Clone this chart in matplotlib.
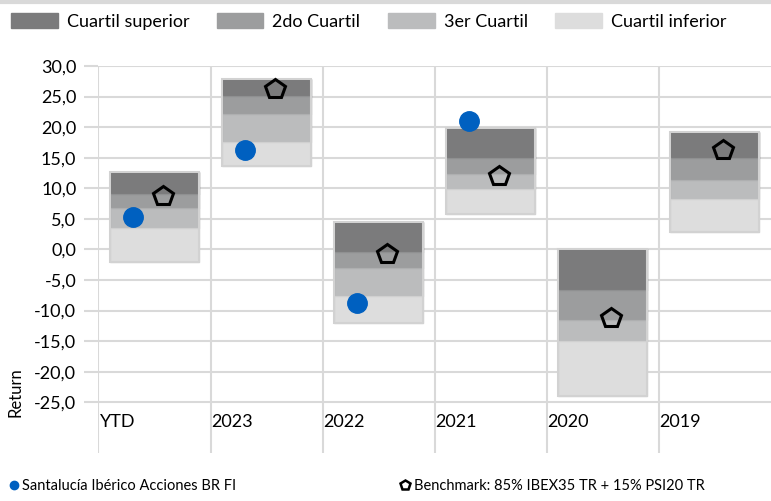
import matplotlib.pyplot as plt
from matplotlib.patches import Patch
from matplotlib.lines import Line2D
import numpy as np

plt.rcParams['font.family'] = ['Lato', 'DejaVu Sans']

categories = ['YTD', '2023', '2022', '2021', '2020', '2019']

# quartile boundaries per period (top -> bottom)
q_top = [12.7, 27.8, 4.5, 19.9, 0.0, 19.2]
q_upper = [9.0, 25.1, -0.4, 14.9, -6.7, 14.9]
q_median = [6.7, 22.2, -3.0, 12.4, -11.5, 11.4]
q_lower = [3.5, 17.6, -7.6, 9.8, -15.0, 8.2]
q_bottom = [-2.0, 13.6, -12.1, 5.8, -23.9, 2.9]

fund = [5.3, 16.2, -8.7, 21.0, np.nan, np.nan]
benchmark = [8.8, 26.2, -0.8, 12.0, -11.2, 16.2]

quart_labels = ['Cuartil superior', '2do Cuartil', '3er Cuartil', 'Cuartil inferior']
quart_colors = ['#7b7b7c', '#9c9d9e', '#bbbcbd', '#dddddd']
quart_edges = ['#6e6e6f', '#8f9091', '#aeafb0', '#d0d0d0']

fig = plt.figure(figsize=(7.71, 5.01), dpi=100)
ax = fig.add_axes([98.5 / 771, 1 - 453 / 501, 672 / 771, (453 - 66) / 501])

x = np.arange(len(categories)) + 0.5
top = np.array(q_top)
upper = np.array(q_upper)
med = np.array(q_median)
low = np.array(q_lower)
bot = np.array(q_bottom)

segments = [(upper, top), (med, upper), (low, med), (bot, low)]
for (b, t), col, ec in zip(segments, quart_colors, quart_edges):
    ax.bar(x, t - b, bottom=b, width=0.8, color=col, edgecolor=ec, linewidth=1, zorder=2)
# outer border of each box
ax.bar(x, top - bot, bottom=bot, width=0.8, facecolor='none', edgecolor='#d2d2d2',
       linewidth=1.5, zorder=3)

ax.plot(x - 0.19, fund, 'o', color='#0060c0', markersize=14, zorder=4)
ax.plot(x + 0.08, benchmark, 'p', markerfacecolor='none', markeredgecolor='black',
        markersize=15, markeredgewidth=2.2, zorder=4)

ax.set_xlim(0, 6)
ax.set_ylim(-33.3, 30)
ax.set_yticks(np.arange(-25, 31, 5))
ax.set_yticklabels([f'{v:.1f}'.replace('.', ',') for v in np.arange(-25, 31, 5)], fontsize=13)
ax.tick_params(axis='y', length=10, color='#d9d9d9', width=1.5, pad=6)
ax.set_xticks(np.arange(6))
ax.set_xticklabels([])
ax.tick_params(axis='x', length=0)
ax.grid(True, color='#d9d9d9', linewidth=1.5, zorder=0)
ax.set_axisbelow(True)
for s in ax.spines.values():
    s.set_visible(False)

for i, c in enumerate(categories):
    ax.text(i + 0.01, -28.2, c, fontsize=13, ha='left', va='center')

fig.text(16 / 771, 1 - 392 / 501, 'Return', rotation=90, fontsize=12, ha='center', va='center')

# top bar
fig.add_artist(Line2D([0, 1], [0.997, 0.997], color='#d9d9d9', linewidth=3))

handles = [Patch(color=c) for c in quart_colors]
fig.legend(handles, quart_labels, loc='upper left', bbox_to_anchor=(0.0, 0.995), ncol=4,
           frameon=False, fontsize=13, handlelength=2.6, handleheight=0.9,
           columnspacing=1.5, handletextpad=0.5, borderaxespad=0.2)

h1 = Line2D([], [], marker='o', color='#0060c0', linestyle='none', markersize=6)
h2 = Line2D([], [], marker='p', markerfacecolor='none', markeredgecolor='black',
            markeredgewidth=1.8, linestyle='none', markersize=7)
fig.legend([h1], ['Santalucía Ibérico Acciones BR FI'], loc='lower left',
           bbox_to_anchor=(-0.005, -0.01), frameon=False, fontsize=10.5,
           handlelength=0.6, handletextpad=0.3)
fig.legend([h2], ['Benchmark: 85% IBEX35 TR + 15% PSI20 TR'], loc='lower left',
           bbox_to_anchor=(0.503, -0.01), frameon=False, fontsize=10.5,
           handlelength=0.6, handletextpad=0.3)

fig.savefig('out.png', dpi=100)
